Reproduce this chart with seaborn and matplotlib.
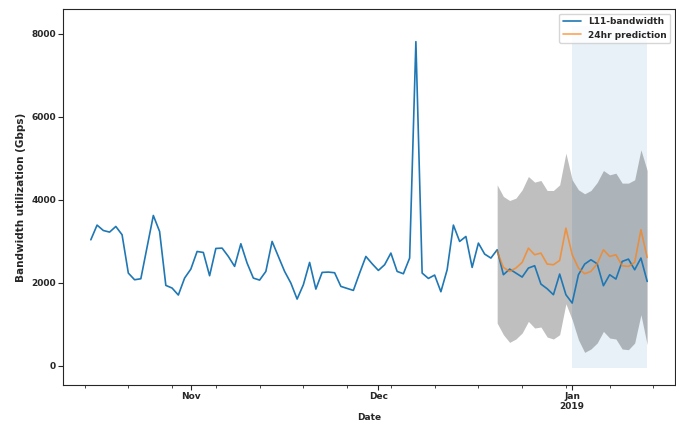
import pandas as pd
import numpy as np
import matplotlib.pyplot as plt
import matplotlib.dates as mdates
import seaborn as sns

# observed daily bandwidth (Gbps), starting 2018-10-16
start_date = '2018-10-16'
bandwidth = [3036, 3390, 3260, 3221, 3357, 3157, 2233, 2072, 2096, 2860,
             3622, 3237, 1936, 1872, 1703, 2112, 2329, 2754, 2730, 2169,
             2827, 2835, 2634, 2394, 2940, 2474, 2112, 2064, 2273, 2996,
             2634, 2273, 1992, 1606, 1952, 2490, 1847, 2249, 2257, 2241,
             1912, 1863, 1815, 2233, 2634, 2458, 2297, 2434, 2715, 2273,
             2217, 2595, 7814, 2233, 2104, 2185, 1783, 2313, 3390, 2996,
             3116, 2369, 2956, 2691, 2595, 2795, 2193, 2329, 2233, 2137,
             2354, 2410, 1968, 1855, 1711, 2209, 1711, 1510, 2193, 2450,
             2554, 2458, 1928, 2193, 2089, 2514, 2570, 2313, 2595, 2032]

# 24hr prediction and its confidence interval, starting 2018-12-20
pred_start = '2018-12-20'
pred_mean = [2755, 2369, 2273, 2354, 2490, 2835, 2675, 2715, 2450, 2434,
             2538, 3317, 2675, 2354, 2217, 2273, 2458, 2795, 2634, 2675,
             2410, 2393, 2490, 3277, 2610]
pred_lower = [1028, 747, 562, 643, 787, 1068, 908, 932, 691, 643,
              747, 1494, 1108, 627, 321, 402, 546, 827, 667, 643,
              402, 386, 546, 1229, 506]
pred_upper = [4361, 4080, 3983, 4040, 4241, 4562, 4426, 4466, 4225, 4225,
              4361, 5124, 4482, 4241, 4145, 4225, 4418, 4706, 4602, 4642,
              4402, 4402, 4482, 5205, 4706]
forecast_from = '2019-01-01'

obs = pd.DataFrame({'Date': pd.date_range(start_date, periods=len(bandwidth), freq='D'),
                    'bw': bandwidth})
pred = pd.DataFrame({'Date': pd.date_range(pred_start, periods=len(pred_mean), freq='D'),
                     'mean': pred_mean, 'lower': pred_lower, 'upper': pred_upper})

sns.set_style('ticks')
plt.rcParams['font.family'] = ['DejaVu Sans']
plt.rcParams['font.weight'] = 'bold'
plt.rcParams['axes.labelweight'] = 'bold'

fig, ax = plt.subplots(figsize=(6.76, 4.22), dpi=100)
fig.subplots_adjust(left=63/676, right=675/676, top=1 - 9/422, bottom=1 - 385/422)

sns.lineplot(data=obs, x='Date', y='bw', ax=ax, color='tab:blue', lw=1.2,
             label='L11-bandwidth')
sns.lineplot(data=pred, x='Date', y='mean', ax=ax, color='tab:orange', lw=1.2,
             alpha=.7, label='24hr prediction')
ax.fill_between(pred['Date'], pred['lower'], pred['upper'], color='k', alpha=.25, lw=0)
ax.fill_betweenx(ax.get_ylim(), pd.to_datetime(forecast_from), obs['Date'].iloc[-1],
                 color='tab:blue', alpha=.1, zorder=-1, lw=0)

# pandas-like date ticks
ax.xaxis.set_major_locator(mdates.MonthLocator())
ax.xaxis.set_minor_locator(mdates.WeekdayLocator(byweekday=mdates.MO))
ax.xaxis.set_major_formatter(plt.FuncFormatter(
    lambda v, p: mdates.num2date(v).strftime('%b\n%Y') if mdates.num2date(v).month == 1
    else mdates.num2date(v).strftime('%b')))
ax.tick_params(axis='both', which='major', labelsize=6.5, length=3.5, width=0.8, pad=1.5)
ax.tick_params(axis='x', which='minor', length=2.5, width=0.6)
for lab in ax.get_xticklabels() + ax.get_yticklabels():
    lab.set_fontweight('bold')

ax.set_xlabel('Date', fontsize=6.5, fontweight='bold', labelpad=1)
ax.set_ylabel('Bandwidth utilization (Gbps)', fontsize=7.5, fontweight='bold', labelpad=4)
ax.legend(loc='upper right', prop={'weight': 'bold', 'size': 6.5})

plt.savefig('out.png', dpi=100)
